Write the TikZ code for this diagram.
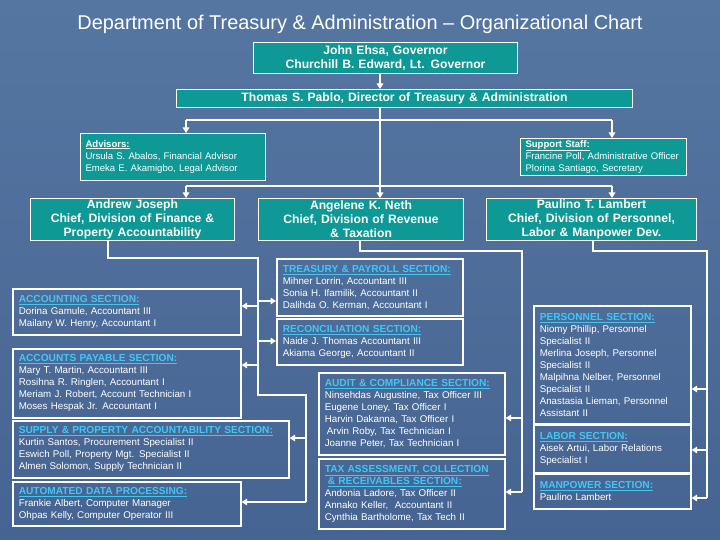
\documentclass[tikz,border=0pt]{standalone}
\usepackage{fontspec}
\setmainfont{Liberation Sans}
\usetikzlibrary{arrows.meta}
\definecolor{bgtop}{RGB}{86,118,162}
\definecolor{bgbot}{RGB}{70,100,145}
\definecolor{tealc}{RGB}{14,152,150}
\definecolor{headc}{RGB}{64,200,245}
\newcommand{\secthead}[1]{{\color{headc}\fontsize{10.2}{12}\selectfont\bfseries\underline{#1}}}
\newcommand{\tealhead}[1]{{\bfseries\underline{#1}}}
\begin{document}
\begin{tikzpicture}[x=1bp,y=-1bp,
  conn/.style={draw=white, line width=1.8bp},
  arr/.style={draw=white, line width=1.8bp, -{Triangle[width=6.5bp,length=5.5bp]}},
  tealbox/.style={draw=white, line width=1bp, fill=tealc, text=white,
    font=\fontsize{12.2}{14}\selectfont\bfseries, align=center, inner sep=0pt, anchor=north west},
  tealleft/.style={draw=white, line width=1bp, fill=tealc, text=white,
    font=\fontsize{9.6}{12.5}\selectfont, align=left, inner xsep=5bp, inner ysep=0pt, anchor=north west},
  sect/.style={draw=white, line width=1.6bp, text=white,
    font=\fontsize{9.8}{12}\selectfont, align=left, inner xsep=6bp, inner ysep=0pt, anchor=north west},
]
\shade[top color=bgtop, bottom color=bgbot] (0,0) rectangle (720,540);
\useasboundingbox (0,0) rectangle (720,540);

\node[text=white, font=\fontsize{20}{24}\selectfont] (title) at (360,24)
  {Department of Treasury \& Administration – Organizational Chart};

\node[tealbox, text width=264bp, minimum height=31bp] (gov) at (253,42)
  {John Ehsa, Governor\\Churchill B. Edward, Lt. Governor};
\node[tealbox, text width=456bp, minimum height=18bp] (dir) at (176,89)
  {Thomas S. Pablo, Director of Treasury \& Administration};

\node[tealleft, text width=175bp, minimum height=47bp] (adv) at (80,133)
  {\tealhead{Advisors:}\\Ursula S. Abalos, Financial Advisor\\Emeka E. Akamigbo, Legal Advisor};
\node[tealleft, text width=156bp, minimum height=37bp] (sup) at (520,138)
  {\tealhead{Support Staff:}\\Francine Poll, Administrative Officer\\Plorina Santiago, Secretary};

\node[tealbox, text width=204bp, minimum height=42bp] (andr) at (30,198)
  {Andrew Joseph\\Chief, Division of Finance \&\\Property Accountability};
\node[tealbox, text width=205bp, minimum height=42bp] (ang) at (258,198)
  {Angelene K. Neth\\Chief, Division of Revenue\\\& Taxation};
\node[tealbox, text width=210bp, minimum height=42bp] (paul) at (486,198)
  {Paulino T. Lambert\\Chief, Division of Personnel,\\Labor \& Manpower Dev.};

% Finance sections
\node[sect, text width=216bp, minimum height=46bp] (acct) at (12,288)
  {\secthead{ACCOUNTING SECTION:}\\Dorina Gamule, Accountant III\\Mailany W. Henry, Accountant I};
\node[sect, text width=216bp, minimum height=69bp] (ap) at (12,348)
  {\secthead{ACCOUNTS PAYABLE SECTION:}\\Mary T. Martin, Accountant III\\Rosihna R. Ringlen, Accountant I\\Meriam J. Robert, Account Technician I\\Moses Hespak Jr. Accountant I};
\node[sect, text width=264bp, minimum height=57bp] (supp) at (12,420)
  {\secthead{SUPPLY \& PROPERTY ACCOUNTABILITY SECTION:}\\Kurtin Santos, Procurement Specialist II\\Eswich Poll, Property Mgt. Specialist II\\Almen Solomon, Supply Technician II};
\node[sect, text width=216bp, minimum height=44bp] (auto) at (12,481)
  {\secthead{AUTOMATED DATA PROCESSING:}\\Frankie Albert, Computer Manager\\Ohpas Kelly, Computer Operator III};

% Revenue sections
\node[sect, text width=174bp, minimum height=57bp] (treas) at (276,258)
  {\secthead{TREASURY \& PAYROLL SECTION:}\\Mihner Lorrin, Accountant III\\Sonia H. Ifamilik, Accountant II\\Dalihda O. Kerman, Accountant I};
\node[sect, text width=174bp, minimum height=46bp] (recon) at (276,318)
  {\secthead{RECONCILIATION SECTION:}\\Naide J. Thomas Accountant III\\Akiama George, Accountant II};
\node[sect, text width=174bp, minimum height=82bp] (audit) at (318,372)
  {\secthead{AUDIT \& COMPLIANCE SECTION:}\\Ninsehdas Augustine, Tax Officer III\\Eugene Loney, Tax Officer I\\Harvin Dakanna, Tax Officer I\\\hspace{2bp}Arvin Roby, Tax Technician I\\Joanne Peter, Tax Technician I};
\node[sect, text width=174bp, minimum height=70bp] (tax) at (318,458)
  {\secthead{TAX ASSESSMENT, COLLECTION}\\\hspace{3bp}\secthead{\& RECEIVABLES SECTION:}\\Andonia Ladore, Tax Officer II\\Annako Keller,\ \ Accountant II\\Cynthia Bartholome, Tax Tech II};

% Personnel sections
\node[sect, text width=145bp, minimum height=118bp] (pers) at (533,305)
  {\secthead{PERSONNEL SECTION:}\\Niomy Phillip, Personnel\\Specialist II\\Merlina Joseph, Personnel\\Specialist II\\Malpihna Nelber, Personnel\\Specialist II\\Anastasia Lieman, Personnel\\Assistant II};
\node[sect, text width=145bp, minimum height=48bp] (labor) at (533,424)
  {\secthead{LABOR SECTION:}\\Aisek Artui, Labor Relations\\Specialist I};
\node[sect, text width=145bp, minimum height=35bp] (manp) at (533,473)
  {\secthead{MANPOWER SECTION:}\\Paulino Lambert};

% ---- connectors ----
\coordinate (cx) at (380,120);
\coordinate (lx) at (186,120);
\coordinate (rx) at (612,120);
\coordinate (ly) at (186,186);
\coordinate (ry) at (612,186);
\draw[arr] (gov.south -| cx) -- (dir.north -| cx);
\draw[arr] (dir.south -| cx) -- (ang.north -| cx);
\draw[conn] (lx) -- (rx);
\draw[arr] (lx) -- (adv.north -| lx);
\draw[arr] (rx) -- (sup.north -| rx);
\draw[conn] (ly) -- (ry);
\draw[arr] (ly) -- (andr.north -| ly);
\draw[arr] (ry) -- (paul.north -| ry);

% Finance
\coordinate (a1) at (108,258);
\coordinate (a2) at (258,258);
\coordinate (a3) at (258,395);
\coordinate (a4) at (306,395);
\coordinate (a5) at (306,502);
\draw[conn] (andr.south -| a1) -- (a1) -- (a2) -- (a3) -- (a4) -- (a5);
\coordinate (j1) at (258,306);
\coordinate (j2) at (258,365);
\coordinate (j3) at (258,301);
\coordinate (j4) at (258,341);
\coordinate (j5) at (306,438);
\draw[arr] (j1) -- (acct.east |- j1);
\draw[arr] (j2) -- (ap.east |- j2);
\draw[arr] (j3) -- (treas.west |- j3);
\draw[arr] (j4) -- (recon.west |- j4);
\draw[arr] (j5) -- (supp.east |- j5);
\draw[arr] (a5) -- (auto.east |- a5);

% Revenue
\coordinate (b1) at (360,251);
\coordinate (b2) at (522,251);
\coordinate (b3) at (522,492);
\coordinate (k1) at (522,418);
\draw[conn] (ang.south -| b1) -- (b1) -- (b2) -- (b3);
\draw[arr] (k1) -- (audit.east |- k1);
\draw[arr] (b3) -- (tax.east |- b3);

% Personnel
\coordinate (c1) at (593,251);
\coordinate (c2) at (707,251);
\coordinate (c3) at (707,498);
\coordinate (m1) at (707,389);
\coordinate (m2) at (707,450);
\draw[conn] (paul.south -| c1) -- (c1) -- (c2) -- (c3);
\draw[arr] (m1) -- (pers.east |- m1);
\draw[arr] (m2) -- (labor.east |- m2);
\draw[arr] (c3) -- (manp.east |- c3);
\end{tikzpicture}
\end{document}
